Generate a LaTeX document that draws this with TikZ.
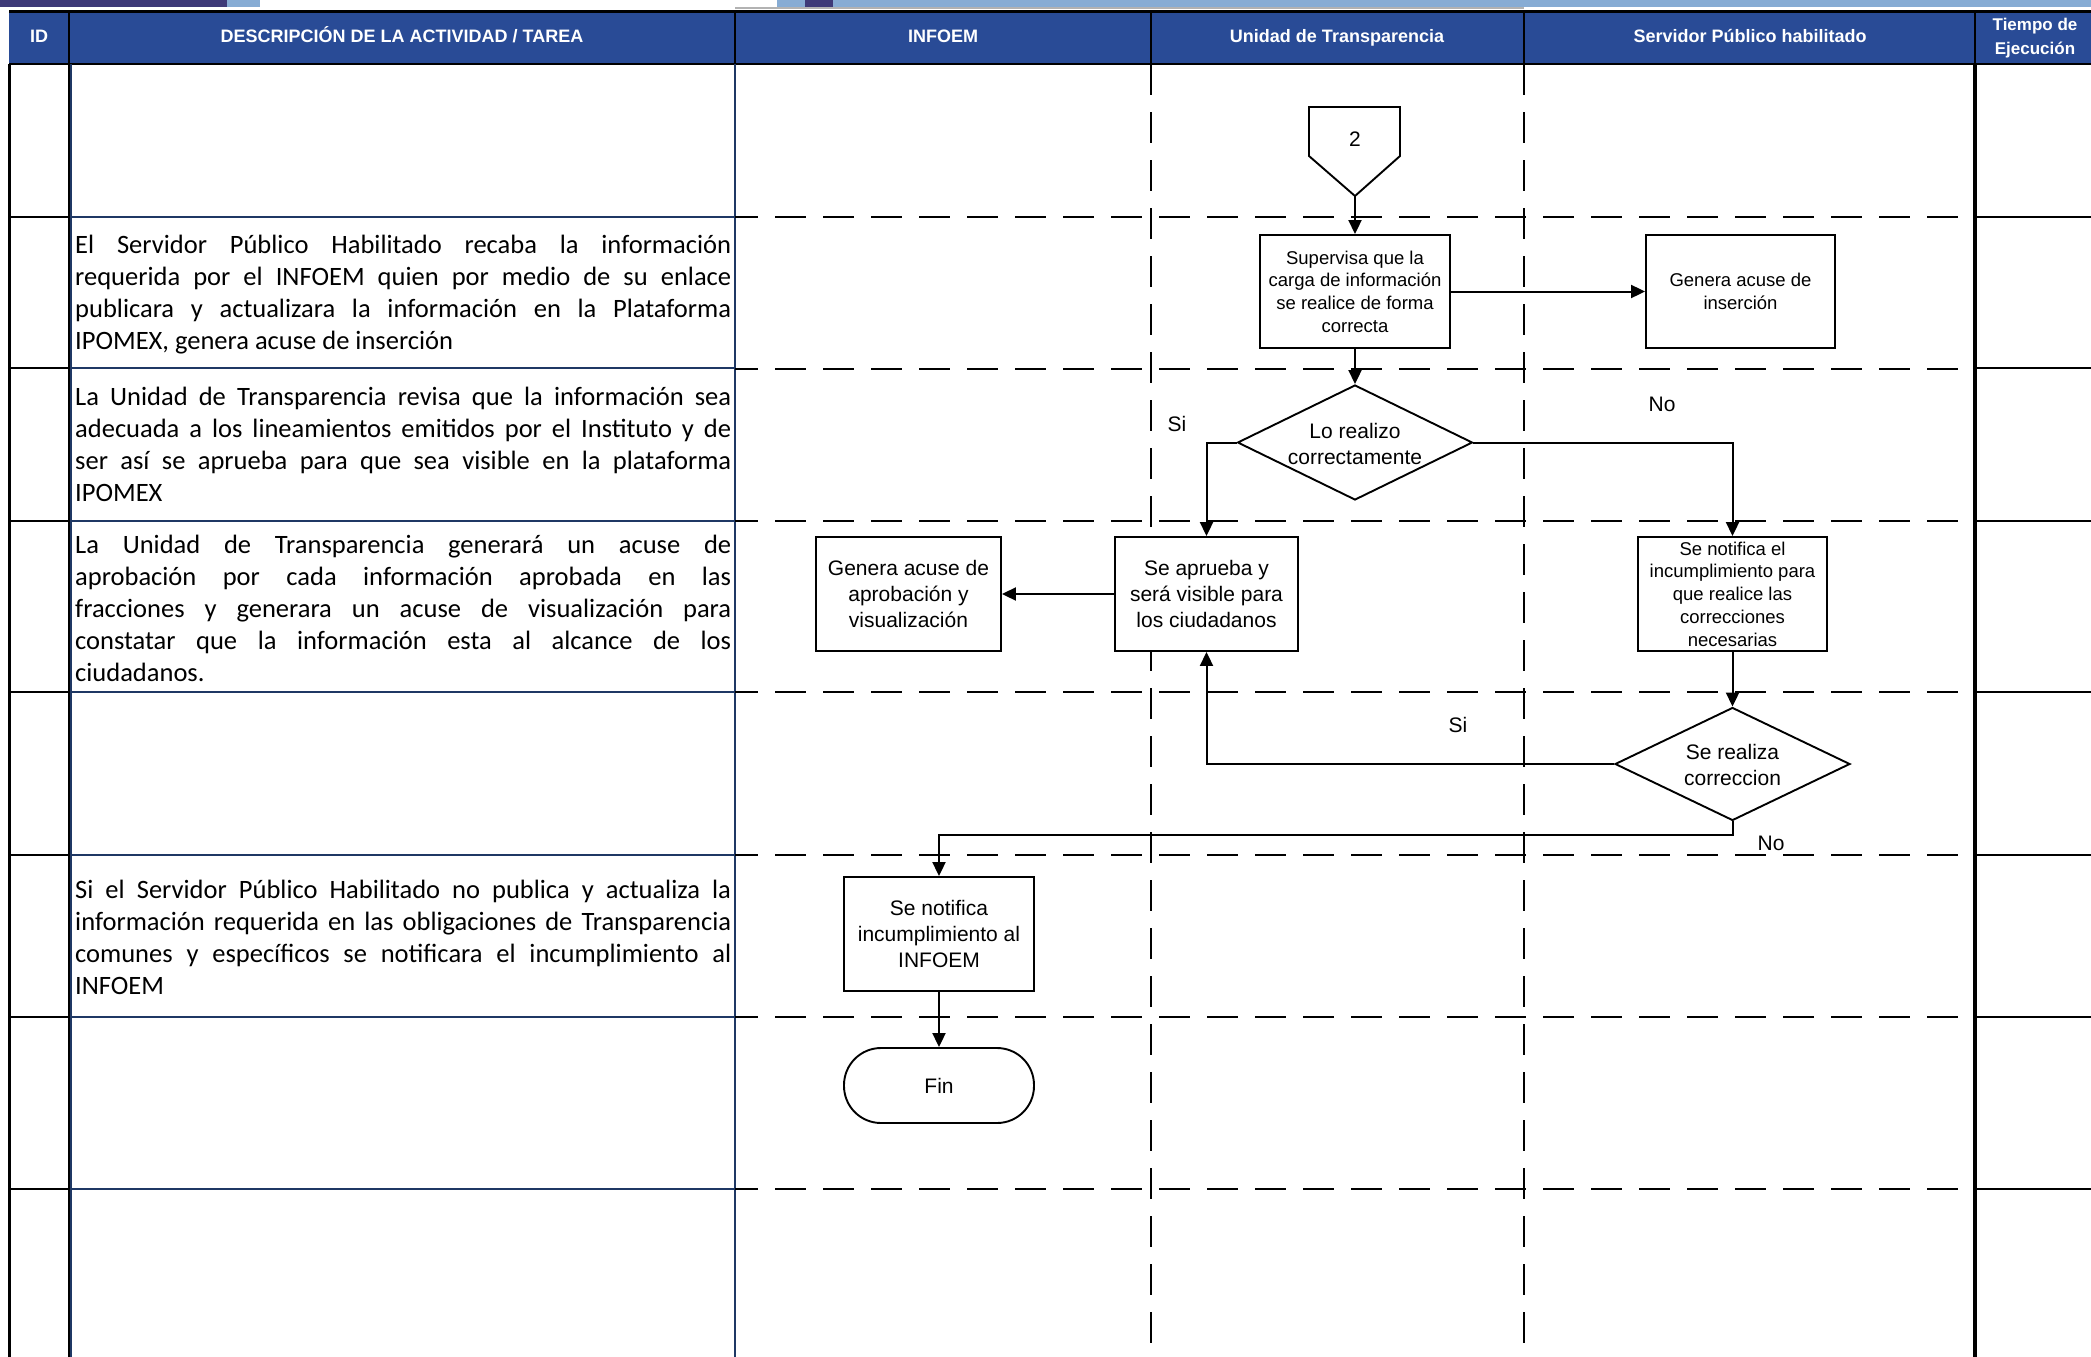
\documentclass[tikz,border=0pt]{standalone}
\usepackage{fontspec}
\setmainfont{Liberation Sans}
\newfontfamily\calib{Carlito}
\usetikzlibrary{arrows.meta,shapes.geometric}
\definecolor{hdrblue}{RGB}{41,75,150}
\definecolor{navyln}{RGB}{31,56,100}
\definecolor{decodark}{RGB}{62,58,120}
\definecolor{decolight}{RGB}{135,172,212}
\newcommand\jline[1]{\makebox[656pt][s]{#1}}
\begin{document}
\begin{tikzpicture}[x=1pt,y=-1pt,
  hdrtxt/.style={text=white, font=\bfseries\fontsize{18}{22}\selectfont, inner sep=0pt, anchor=base},
  desc/.style={anchor=base west, inner sep=0pt},
  flowbox/.style={draw, line width=1.9pt, inner sep=0pt, align=center, fill=white,
    font=\fontsize{21}{26}\selectfont},
  smallbox/.style={flowbox, font=\fontsize{18.5}{22.7}\selectfont},
  dia/.style={diamond, draw, line width=1.9pt, inner sep=0pt, fill=white},
  ftxt/.style={align=center, inner sep=0pt, font=\fontsize{21}{25.5}\selectfont},
  lbl/.style={inner sep=0pt, font=\fontsize{21}{25}\selectfont},
  conn/.style={line width=2pt, -{Triangle[length=14pt,width=13pt]}},
  lane/.style={line width=2pt, dash pattern=on 31pt off 17pt},
  tline/.style={line width=2.2pt, black},
  dline/.style={line width=1.5pt, navyln}]
\useasboundingbox (0,0) rectangle (2091,1357);
\fill[white] (0,0) rectangle (2091,1357);
% top decoration
\fill[decodark] (0,0) rectangle (227,7);
\fill[decolight] (227,0) rectangle (260,7);
\fill[decolight] (777,0) rectangle (2091,7);
\fill[decodark] (805,0) rectangle (833,7);
\draw[line width=1.5pt, gray!60] (735,8) -- (1524,8);
% header
\fill[hdrblue] (9,11) rectangle (2091,64);
\draw[line width=3pt] (9,11) -- (2091,11);
\draw[line width=2.5pt] (9,64) -- (2091,64);
\foreach \xx in {69,735,1151,1524,1975} \draw[line width=2pt] (\xx,11) -- (\xx,64);
\node[hdrtxt] (hid) at (39,42.5) {ID};
\node[hdrtxt] (hdesc) at (402,42.5) {DESCRIPCIÓN DE LA ACTIVIDAD / TAREA};
\node[hdrtxt] (hinf) at (943,42.5) {INFOEM};
\node[hdrtxt] (hut) at (1337,42.5) {Unidad de Transparencia};
\node[hdrtxt] (hsp) at (1750,42.5) {Servidor Público habilitado};
\node[text=white, inner sep=0pt, align=center, font=\bfseries\fontsize{17}{24}\selectfont] (hte) at (2035,38) {Tiempo de\\Ejecución};
% table lines
\draw[line width=3pt] (9,64) -- (9,1357);
\draw[tline] (69,64) -- (69,1357);
\draw[dline] (71,64) -- (71,1357);
\draw[dline] (735,64) -- (735,1357);
\draw[line width=3.5pt] (1975,64) -- (1975,1357);
\foreach \yy in {217,368,521,692,855,1017,1189} {
  \draw[tline] (9,\yy) -- (69,\yy);
  \draw[dline] (71,\yy) -- (735,\yy);
  \draw[tline] (1975,\yy) -- (2091,\yy);
}
% lanes
\draw[lane] (1151,64) -- (1151,1345);
\draw[lane] (1524,64) -- (1524,1345);
\foreach \yy in {217,369,521,692,855,1017,1189}
  \draw[lane, dash phase=-40pt] (735,\yy) -- (1967,\yy);
% descriptions
\node[desc] (t2) at (75,253) {\parbox[t]{656pt}{\calib\fontsize{26.5}{32}\selectfont
\jline{El Servidor Público Habilitado recaba la información}\\
\jline{requerida por el INFOEM quien por medio de su enlace}\\
\jline{publicara y actualizara la información en la Plataforma}\\
IPOMEX, genera acuse de inserción}};
\node[desc] (t3) at (75,405) {\parbox[t]{656pt}{\calib\fontsize{26.5}{32}\selectfont
\jline{La Unidad de Transparencia revisa que la información sea}\\
\jline{adecuada a los lineamientos emitidos por el Instituto y de}\\
\jline{ser así se aprueba para que sea visible en la plataforma}\\
IPOMEX}};
\node[desc] (t4) at (75,553) {\parbox[t]{656pt}{\calib\fontsize{26.5}{32}\selectfont
\jline{La Unidad de Transparencia generará un acuse de}\\
\jline{aprobación por cada información aprobada en las}\\
\jline{fracciones y generara un acuse de visualización para}\\
\jline{constatar que la información esta al alcance de los}\\
ciudadanos.}};
\node[desc] (t6) at (75,898) {\parbox[t]{656pt}{\calib\fontsize{26.5}{32}\selectfont
\jline{Si el Servidor Público Habilitado no publica y actualiza la}\\
\jline{información requerida en las obligaciones de Transparencia}\\
\jline{comunes y específicos se notificara el incumplimiento al}\\
INFOEM}};
% flowchart
\draw[line width=1.9pt, fill=white] (1309,107) -- (1400,107) -- (1400,156) -- (1355,196) -- (1309,156) -- cycle;
\node[lbl] (c2) at (1355,139) {2};
\coordinate (c2tip) at (1355,196);
\node[smallbox, minimum width=190pt, minimum height=113pt] (sup) at (1355,291.5)
  {Supervisa que la\\carga de información\\se realice de forma\\correcta};
\node[smallbox, minimum width=189pt, minimum height=113pt] (gen1) at (1740.5,291.5)
  {Genera acuse de\\inserción};
\node[dia, minimum width=235pt, minimum height=115pt] (d1) at (1355,442.5) {};
\node[ftxt] (d1t) at (1355,444) {Lo realizo\\correctamente};
\node[flowbox, minimum width=183pt, minimum height=114pt] (apr) at (1206.5,594)
  {Se aprueba y\\será visible para\\los ciudadanos};
\node[smallbox, minimum width=189pt, minimum height=114pt] (not1) at (1732.5,594)
  {Se notifica el\\incumplimiento para\\que realice las\\correcciones\\necesarias};
\node[flowbox, minimum width=185pt, minimum height=114pt] (genap) at (908.5,594)
  {Genera acuse de\\aprobación y\\visualización};
\node[dia, minimum width=235pt, minimum height=113pt] (d2) at (1732.5,764) {};
\node[ftxt] (d2t) at (1732.5,765) {Se realiza\\correccion};
\node[flowbox, minimum width=190pt, minimum height=114pt] (not2) at (939,934)
  {Se notifica\\incumplimiento al\\INFOEM};
\node[flowbox, minimum width=190pt, minimum height=75pt, rounded corners=37pt] (fin) at (939,1085.5) {Fin};
\coordinate (bend) at (939,835);
% connectors
\draw[conn] (c2tip) -- (sup.north);
\draw[conn] (sup.east) -- (gen1.west);
\draw[conn] (sup.south) -- (d1.north);
\draw[conn] (d1.west) -| (apr.north);
\draw[conn] (d1.east) -| (not1.north);
\draw[conn] (apr.west) -- (genap.east);
\draw[conn] (not1.south) -- (d2.north);
\draw[conn] (d2.west) -| (apr.south);
\draw[conn] (d2.south) |- (bend) -- (not2.north);
\draw[conn] (not2.south) -- (fin.north);
% labels
\node[lbl] (si1) at (1177,424) {Si};
\node[lbl] (no1) at (1662,404) {No};
\node[lbl] (si2) at (1458,725) {Si};
\node[lbl] (no2) at (1771,843) {No};
\end{tikzpicture}
\end{document}
